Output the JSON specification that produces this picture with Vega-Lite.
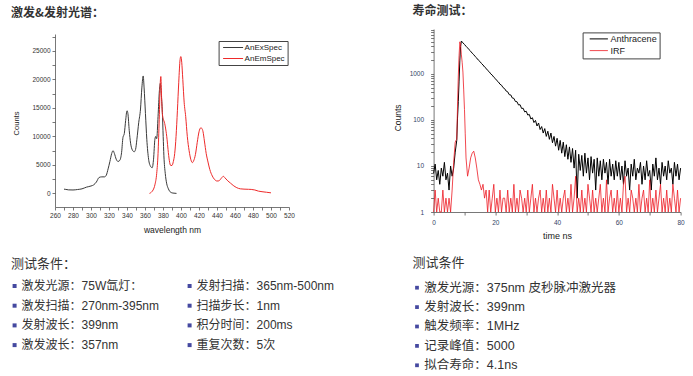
{
  "$schema": "https://vega.github.io/schema/vega-lite/v6.json",
  "background": "white",
  "padding": {"left": 11, "top": 5, "right": 5, "bottom": 5},
  "config": {"view": {"stroke": null}},
  "resolve": {"scale": {"color": "independent", "opacity": "independent", "x": "independent", "y": "independent"}, "legend": {"color": "independent"}},
  "datasets": {
    "spectra": [
      {"nm":270,"counts":750,"series":"AnExSpec"},{"nm":272,"counts":700,"series":"AnExSpec"},{"nm":275,"counts":620,"series":"AnExSpec"},{"nm":280,"counts":600,"series":"AnExSpec"},{"nm":285,"counts":680,"series":"AnExSpec"},{"nm":290,"counts":800,"series":"AnExSpec"},{"nm":295,"counts":1100,"series":"AnExSpec"},{"nm":300,"counts":1300,"series":"AnExSpec"},{"nm":303,"counts":1500,"series":"AnExSpec"},{"nm":306,"counts":2000,"series":"AnExSpec"},{"nm":309,"counts":2800,"series":"AnExSpec"},{"nm":312,"counts":2900,"series":"AnExSpec"},{"nm":315,"counts":2900,"series":"AnExSpec"},{"nm":317,"counts":3200,"series":"AnExSpec"},{"nm":319,"counts":4300,"series":"AnExSpec"},{"nm":321,"counts":5600,"series":"AnExSpec"},{"nm":323,"counts":7000,"series":"AnExSpec"},{"nm":324.5,"counts":7500,"series":"AnExSpec"},{"nm":326,"counts":7000,"series":"AnExSpec"},{"nm":328,"counts":6000,"series":"AnExSpec"},{"nm":330,"counts":5600,"series":"AnExSpec"},{"nm":332,"counts":5800,"series":"AnExSpec"},{"nm":334,"counts":7200,"series":"AnExSpec"},{"nm":335.5,"counts":9800,"series":"AnExSpec"},{"nm":337,"counts":10500,"series":"AnExSpec"},{"nm":338.5,"counts":12800,"series":"AnExSpec"},{"nm":340,"counts":14500,"series":"AnExSpec"},{"nm":341,"counts":14000,"series":"AnExSpec"},{"nm":342.5,"counts":11000,"series":"AnExSpec"},{"nm":344,"counts":8800,"series":"AnExSpec"},{"nm":346,"counts":7600,"series":"AnExSpec"},{"nm":348,"counts":7300,"series":"AnExSpec"},{"nm":349.5,"counts":7700,"series":"AnExSpec"},{"nm":351,"counts":9500,"series":"AnExSpec"},{"nm":353,"counts":12400,"series":"AnExSpec"},{"nm":355,"counts":14800,"series":"AnExSpec"},{"nm":356.5,"counts":18500,"series":"AnExSpec"},{"nm":358,"counts":20600,"series":"AnExSpec"},{"nm":359,"counts":18500,"series":"AnExSpec"},{"nm":360.5,"counts":14000,"series":"AnExSpec"},{"nm":362,"counts":9500,"series":"AnExSpec"},{"nm":364,"counts":6000,"series":"AnExSpec"},{"nm":366,"counts":4800,"series":"AnExSpec"},{"nm":368,"counts":4500,"series":"AnExSpec"},{"nm":369.5,"counts":6000,"series":"AnExSpec"},{"nm":371,"counts":9500,"series":"AnExSpec"},{"nm":372,"counts":10000,"series":"AnExSpec"},{"nm":373,"counts":9600,"series":"AnExSpec"},{"nm":374.5,"counts":13500,"series":"AnExSpec"},{"nm":376,"counts":18000,"series":"AnExSpec"},{"nm":377,"counts":19300,"series":"AnExSpec"},{"nm":378,"counts":17500,"series":"AnExSpec"},{"nm":379.3,"counts":14200,"series":"AnExSpec"},{"nm":380.2,"counts":10000,"series":"AnExSpec"},{"nm":381,"counts":6600,"series":"AnExSpec"},{"nm":382.5,"counts":3500,"series":"AnExSpec"},{"nm":384,"counts":1800,"series":"AnExSpec"},{"nm":386,"counts":800,"series":"AnExSpec"},{"nm":388.5,"counts":200,"series":"AnExSpec"},{"nm":391,"counts":60,"series":"AnExSpec"},{"nm":395,"counts":0,"series":"AnExSpec"},
      {"nm":365,"counts":0,"series":"AnEmSpec"},{"nm":367,"counts":200,"series":"AnEmSpec"},{"nm":369,"counts":600,"series":"AnEmSpec"},{"nm":371,"counts":1500,"series":"AnEmSpec"},{"nm":373,"counts":3500,"series":"AnEmSpec"},{"nm":374.5,"counts":7000,"series":"AnEmSpec"},{"nm":375.8,"counts":13000,"series":"AnEmSpec"},{"nm":377,"counts":19500,"series":"AnEmSpec"},{"nm":377.6,"counts":20500,"series":"AnEmSpec"},{"nm":378.4,"counts":17000,"series":"AnEmSpec"},{"nm":379.3,"counts":14000,"series":"AnEmSpec"},{"nm":380.4,"counts":13000,"series":"AnEmSpec"},{"nm":381.5,"counts":12500,"series":"AnEmSpec"},{"nm":383,"counts":11300,"series":"AnEmSpec"},{"nm":384.5,"counts":9500,"series":"AnEmSpec"},{"nm":385.6,"counts":7700,"series":"AnEmSpec"},{"nm":387,"counts":5800,"series":"AnEmSpec"},{"nm":388.5,"counts":4900,"series":"AnEmSpec"},{"nm":390,"counts":4900,"series":"AnEmSpec"},{"nm":391.5,"counts":5600,"series":"AnEmSpec"},{"nm":393,"counts":7000,"series":"AnEmSpec"},{"nm":394.5,"counts":10000,"series":"AnEmSpec"},{"nm":396,"counts":14500,"series":"AnEmSpec"},{"nm":397.5,"counts":19500,"series":"AnEmSpec"},{"nm":399,"counts":23500,"series":"AnEmSpec"},{"nm":399.8,"counts":24000,"series":"AnEmSpec"},{"nm":400.8,"counts":23000,"series":"AnEmSpec"},{"nm":402,"counts":20000,"series":"AnEmSpec"},{"nm":403.5,"counts":16000,"series":"AnEmSpec"},{"nm":405.2,"counts":13500,"series":"AnEmSpec"},{"nm":407,"counts":10000,"series":"AnEmSpec"},{"nm":409,"counts":7500,"series":"AnEmSpec"},{"nm":411,"counts":5900,"series":"AnEmSpec"},{"nm":412.6,"counts":5400,"series":"AnEmSpec"},{"nm":414,"counts":5700,"series":"AnEmSpec"},{"nm":416,"counts":6800,"series":"AnEmSpec"},{"nm":418,"counts":8900,"series":"AnEmSpec"},{"nm":420,"counts":10800,"series":"AnEmSpec"},{"nm":422,"counts":11500,"series":"AnEmSpec"},{"nm":423.2,"counts":11400,"series":"AnEmSpec"},{"nm":424.5,"counts":10800,"series":"AnEmSpec"},{"nm":426,"counts":9200,"series":"AnEmSpec"},{"nm":428,"counts":7000,"series":"AnEmSpec"},{"nm":430,"counts":5500,"series":"AnEmSpec"},{"nm":432,"counts":4200,"series":"AnEmSpec"},{"nm":434.8,"counts":3050,"series":"AnEmSpec"},{"nm":437,"counts":2500,"series":"AnEmSpec"},{"nm":440,"counts":2170,"series":"AnEmSpec"},{"nm":442,"counts":2200,"series":"AnEmSpec"},{"nm":445,"counts":2700,"series":"AnEmSpec"},{"nm":447,"counts":3000,"series":"AnEmSpec"},{"nm":449,"counts":2700,"series":"AnEmSpec"},{"nm":452,"counts":2200,"series":"AnEmSpec"},{"nm":455,"counts":1800,"series":"AnEmSpec"},{"nm":458,"counts":1400,"series":"AnEmSpec"},{"nm":462,"counts":1000,"series":"AnEmSpec"},{"nm":466,"counts":800,"series":"AnEmSpec"},{"nm":470,"counts":750,"series":"AnEmSpec"},{"nm":475,"counts":720,"series":"AnEmSpec"},{"nm":478,"counts":700,"series":"AnEmSpec"},{"nm":482,"counts":600,"series":"AnEmSpec"},{"nm":486,"counts":400,"series":"AnEmSpec"},{"nm":490,"counts":300,"series":"AnEmSpec"},{"nm":495,"counts":200,"series":"AnEmSpec"},{"nm":500,"counts":100,"series":"AnEmSpec"}
    ],
    "decay": [
      {"t":0,"counts":7,"series":"Anthracene"},{"t":0.5,"counts":11,"series":"Anthracene"},{"t":1,"counts":5,"series":"Anthracene"},{"t":1.5,"counts":8,"series":"Anthracene"},{"t":2,"counts":4,"series":"Anthracene"},{"t":2.5,"counts":9,"series":"Anthracene"},{"t":3,"counts":6,"series":"Anthracene"},{"t":3.5,"counts":12,"series":"Anthracene"},{"t":4,"counts":5,"series":"Anthracene"},{"t":4.5,"counts":7,"series":"Anthracene"},{"t":5,"counts":3,"series":"Anthracene"},{"t":5.5,"counts":10,"series":"Anthracene"},{"t":6,"counts":6,"series":"Anthracene"},{"t":6.5,"counts":9,"series":"Anthracene"},{"t":7,"counts":20,"series":"Anthracene"},{"t":7.5,"counts":36,"series":"Anthracene"},{"t":7.75,"counts":110,"series":"Anthracene"},{"t":8,"counts":250,"series":"Anthracene"},{"t":8.25,"counts":700,"series":"Anthracene"},{"t":8.5,"counts":2000,"series":"Anthracene"},{"t":8.75,"counts":4000,"series":"Anthracene"},{"t":9,"counts":5200,"series":"Anthracene"},{"t":9.5,"counts":4750,"series":"Anthracene"},{"t":10,"counts":4390,"series":"Anthracene"},{"t":10.5,"counts":4000,"series":"Anthracene"},{"t":11,"counts":3700,"series":"Anthracene"},{"t":11.5,"counts":3370,"series":"Anthracene"},{"t":12,"counts":3120,"series":"Anthracene"},{"t":12.5,"counts":2830,"series":"Anthracene"},{"t":13,"counts":2630,"series":"Anthracene"},{"t":13.5,"counts":2380,"series":"Anthracene"},{"t":14,"counts":2210,"series":"Anthracene"},{"t":14.5,"counts":2000,"series":"Anthracene"},{"t":15,"counts":1870,"series":"Anthracene"},{"t":15.5,"counts":1690,"series":"Anthracene"},{"t":16,"counts":1570,"series":"Anthracene"},{"t":16.5,"counts":1420,"series":"Anthracene"},{"t":17,"counts":1330,"series":"Anthracene"},{"t":17.5,"counts":1195,"series":"Anthracene"},{"t":18,"counts":1120,"series":"Anthracene"},{"t":18.5,"counts":1005,"series":"Anthracene"},{"t":19,"counts":945,"series":"Anthracene"},{"t":19.5,"counts":850,"series":"Anthracene"},{"t":20,"counts":795,"series":"Anthracene"},{"t":20.5,"counts":715,"series":"Anthracene"},{"t":21,"counts":670,"series":"Anthracene"},{"t":21.5,"counts":600,"series":"Anthracene"},{"t":22,"counts":570,"series":"Anthracene"},{"t":22.5,"counts":505,"series":"Anthracene"},{"t":23,"counts":480,"series":"Anthracene"},{"t":23.5,"counts":425,"series":"Anthracene"},{"t":24,"counts":410,"series":"Anthracene"},{"t":24.5,"counts":355,"series":"Anthracene"},{"t":25,"counts":350,"series":"Anthracene"},{"t":25.5,"counts":300,"series":"Anthracene"},{"t":26,"counts":295,"series":"Anthracene"},{"t":26.5,"counts":252,"series":"Anthracene"},{"t":27,"counts":250,"series":"Anthracene"},{"t":27.5,"counts":212,"series":"Anthracene"},{"t":28,"counts":215,"series":"Anthracene"},{"t":28.5,"counts":178,"series":"Anthracene"},{"t":29,"counts":180,"series":"Anthracene"},{"t":29.5,"counts":150,"series":"Anthracene"},{"t":30,"counts":155,"series":"Anthracene"},{"t":30.5,"counts":128,"series":"Anthracene"},{"t":31,"counts":132,"series":"Anthracene"},{"t":31.5,"counts":105,"series":"Anthracene"},{"t":32,"counts":112,"series":"Anthracene"},{"t":32.5,"counts":88,"series":"Anthracene"},{"t":33,"counts":98,"series":"Anthracene"},{"t":33.5,"counts":74,"series":"Anthracene"},{"t":34,"counts":86,"series":"Anthracene"},{"t":34.5,"counts":62,"series":"Anthracene"},{"t":35,"counts":72,"series":"Anthracene"},{"t":35.5,"counts":52,"series":"Anthracene"},{"t":36,"counts":65,"series":"Anthracene"},{"t":36.5,"counts":44,"series":"Anthracene"},{"t":37,"counts":57,"series":"Anthracene"},{"t":37.5,"counts":38,"series":"Anthracene"},{"t":38,"counts":52,"series":"Anthracene"},{"t":38.5,"counts":32,"series":"Anthracene"},{"t":39,"counts":44,"series":"Anthracene"},{"t":39.5,"counts":27,"series":"Anthracene"},{"t":40,"counts":40,"series":"Anthracene"},{"t":40.5,"counts":22,"series":"Anthracene"},{"t":41,"counts":36,"series":"Anthracene"},{"t":41.5,"counts":19,"series":"Anthracene"},{"t":42,"counts":33,"series":"Anthracene"},{"t":42.5,"counts":16,"series":"Anthracene"},{"t":43,"counts":29,"series":"Anthracene"},{"t":43.5,"counts":14,"series":"Anthracene"},{"t":44,"counts":26,"series":"Anthracene"},{"t":44.5,"counts":12,"series":"Anthracene"},{"t":45,"counts":24,"series":"Anthracene"},{"t":45.5,"counts":9,"series":"Anthracene"},{"t":46,"counts":22,"series":"Anthracene"},{"t":46.5,"counts":2,"series":"Anthracene"},{"t":47,"counts":18,"series":"Anthracene"},{"t":47.5,"counts":8,"series":"Anthracene"},{"t":48,"counts":17,"series":"Anthracene"},{"t":48.5,"counts":6,"series":"Anthracene"},{"t":49,"counts":19,"series":"Anthracene"},{"t":49.5,"counts":7,"series":"Anthracene"},{"t":50,"counts":15,"series":"Anthracene"},{"t":50.5,"counts":5,"series":"Anthracene"},{"t":51,"counts":16,"series":"Anthracene"},{"t":51.5,"counts":7,"series":"Anthracene"},{"t":52,"counts":14,"series":"Anthracene"},{"t":52.5,"counts":3,"series":"Anthracene"},{"t":53,"counts":15,"series":"Anthracene"},{"t":53.5,"counts":6,"series":"Anthracene"},{"t":54,"counts":13,"series":"Anthracene"},{"t":54.5,"counts":5,"series":"Anthracene"},{"t":55,"counts":14,"series":"Anthracene"},{"t":55.5,"counts":7,"series":"Anthracene"},{"t":56,"counts":12,"series":"Anthracene"},{"t":56.5,"counts":4,"series":"Anthracene"},{"t":57,"counts":14,"series":"Anthracene"},{"t":57.5,"counts":6,"series":"Anthracene"},{"t":58,"counts":11,"series":"Anthracene"},{"t":58.5,"counts":5,"series":"Anthracene"},{"t":59,"counts":13,"series":"Anthracene"},{"t":59.5,"counts":6,"series":"Anthracene"},{"t":60,"counts":12,"series":"Anthracene"},{"t":60.5,"counts":5,"series":"Anthracene"},{"t":61,"counts":10,"series":"Anthracene"},{"t":61.5,"counts":4,"series":"Anthracene"},{"t":62,"counts":13,"series":"Anthracene"},{"t":62.5,"counts":6,"series":"Anthracene"},{"t":63,"counts":9,"series":"Anthracene"},{"t":63.5,"counts":3,"series":"Anthracene"},{"t":64,"counts":11,"series":"Anthracene"},{"t":64.5,"counts":6,"series":"Anthracene"},{"t":65,"counts":14,"series":"Anthracene"},{"t":65.5,"counts":5,"series":"Anthracene"},{"t":66,"counts":9,"series":"Anthracene"},{"t":66.5,"counts":7,"series":"Anthracene"},{"t":67,"counts":12,"series":"Anthracene"},{"t":67.5,"counts":4,"series":"Anthracene"},{"t":68,"counts":10,"series":"Anthracene"},{"t":68.5,"counts":5,"series":"Anthracene"},{"t":69,"counts":13,"series":"Anthracene"},{"t":69.5,"counts":6,"series":"Anthracene"},{"t":70,"counts":8,"series":"Anthracene"},{"t":70.5,"counts":3,"series":"Anthracene"},{"t":71,"counts":11,"series":"Anthracene"},{"t":71.5,"counts":6,"series":"Anthracene"},{"t":72,"counts":15,"series":"Anthracene"},{"t":72.5,"counts":5,"series":"Anthracene"},{"t":73,"counts":9,"series":"Anthracene"},{"t":73.5,"counts":4,"series":"Anthracene"},{"t":74,"counts":12,"series":"Anthracene"},{"t":74.5,"counts":6,"series":"Anthracene"},{"t":75,"counts":10,"series":"Anthracene"},{"t":75.5,"counts":5,"series":"Anthracene"},{"t":76,"counts":13,"series":"Anthracene"},{"t":76.5,"counts":7,"series":"Anthracene"},{"t":77,"counts":9,"series":"Anthracene"},{"t":77.5,"counts":4,"series":"Anthracene"},{"t":78,"counts":12,"series":"Anthracene"},{"t":78.5,"counts":6,"series":"Anthracene"},{"t":79,"counts":11,"series":"Anthracene"},{"t":79.5,"counts":5,"series":"Anthracene"},{"t":80,"counts":9,"series":"Anthracene"},
      {"t":0,"counts":1,"series":"IRF"},{"t":0.5,"counts":3,"series":"IRF"},{"t":1,"counts":1,"series":"IRF"},{"t":1.5,"counts":2,"series":"IRF"},{"t":2,"counts":1,"series":"IRF"},{"t":2.5,"counts":1,"series":"IRF"},{"t":3,"counts":3,"series":"IRF"},{"t":3.5,"counts":1,"series":"IRF"},{"t":4,"counts":2,"series":"IRF"},{"t":4.5,"counts":1,"series":"IRF"},{"t":5,"counts":2,"series":"IRF"},{"t":5.5,"counts":1,"series":"IRF"},{"t":6,"counts":3,"series":"IRF"},{"t":6.5,"counts":12,"series":"IRF"},{"t":7,"counts":33,"series":"IRF"},{"t":7.25,"counts":36,"series":"IRF"},{"t":7.5,"counts":38,"series":"IRF"},{"t":7.75,"counts":200,"series":"IRF"},{"t":8,"counts":900,"series":"IRF"},{"t":8.25,"counts":2500,"series":"IRF"},{"t":8.5,"counts":5000,"series":"IRF"},{"t":8.75,"counts":4200,"series":"IRF"},{"t":9,"counts":2600,"series":"IRF"},{"t":9.25,"counts":1800,"series":"IRF"},{"t":9.5,"counts":1100,"series":"IRF"},{"t":9.75,"counts":450,"series":"IRF"},{"t":10,"counts":170,"series":"IRF"},{"t":10.25,"counts":50,"series":"IRF"},{"t":10.5,"counts":15,"series":"IRF"},{"t":11,"counts":6,"series":"IRF"},{"t":11.5,"counts":9,"series":"IRF"},{"t":12,"counts":15,"series":"IRF"},{"t":12.5,"counts":19,"series":"IRF"},{"t":13,"counts":21,"series":"IRF"},{"t":13.5,"counts":15,"series":"IRF"},{"t":14,"counts":9,"series":"IRF"},{"t":14.5,"counts":5,"series":"IRF"},{"t":15,"counts":4,"series":"IRF"},{"t":15.5,"counts":3,"series":"IRF"},{"t":16,"counts":4,"series":"IRF"},{"t":16.5,"counts":2,"series":"IRF"},{"t":17,"counts":3,"series":"IRF"},{"t":17.5,"counts":1,"series":"IRF"},{"t":18,"counts":3,"series":"IRF"},{"t":18.5,"counts":1,"series":"IRF"},{"t":19,"counts":2,"series":"IRF"},{"t":19.5,"counts":4,"series":"IRF"},{"t":20,"counts":1,"series":"IRF"},{"t":20.5,"counts":2,"series":"IRF"},{"t":21,"counts":1,"series":"IRF"},{"t":21.5,"counts":3,"series":"IRF"},{"t":22,"counts":1,"series":"IRF"},{"t":22.5,"counts":2,"series":"IRF"},{"t":23,"counts":2,"series":"IRF"},{"t":23.5,"counts":1,"series":"IRF"},{"t":24,"counts":3,"series":"IRF"},{"t":24.5,"counts":1,"series":"IRF"},{"t":25,"counts":2,"series":"IRF"},{"t":25.5,"counts":1,"series":"IRF"},{"t":26,"counts":4,"series":"IRF"},{"t":26.5,"counts":1,"series":"IRF"},{"t":27,"counts":2,"series":"IRF"},{"t":27.5,"counts":1,"series":"IRF"},{"t":28,"counts":3,"series":"IRF"},{"t":28.5,"counts":2,"series":"IRF"},{"t":29,"counts":1,"series":"IRF"},{"t":29.5,"counts":2,"series":"IRF"},{"t":30,"counts":1,"series":"IRF"},{"t":30.5,"counts":3,"series":"IRF"},{"t":31,"counts":1,"series":"IRF"},{"t":31.5,"counts":2,"series":"IRF"},{"t":32,"counts":4,"series":"IRF"},{"t":32.5,"counts":1,"series":"IRF"},{"t":33,"counts":2,"series":"IRF"},{"t":33.5,"counts":1,"series":"IRF"},{"t":34,"counts":2,"series":"IRF"},{"t":34.5,"counts":3,"series":"IRF"},{"t":35,"counts":1,"series":"IRF"},{"t":35.5,"counts":2,"series":"IRF"},{"t":36,"counts":1,"series":"IRF"},{"t":36.5,"counts":3,"series":"IRF"},{"t":37,"counts":1,"series":"IRF"},{"t":37.5,"counts":2,"series":"IRF"},{"t":38,"counts":1,"series":"IRF"},{"t":38.5,"counts":4,"series":"IRF"},{"t":39,"counts":2,"series":"IRF"},{"t":39.5,"counts":1,"series":"IRF"},{"t":40,"counts":3,"series":"IRF"},{"t":40.5,"counts":1,"series":"IRF"},{"t":41,"counts":2,"series":"IRF"},{"t":41.5,"counts":1,"series":"IRF"},{"t":42,"counts":2,"series":"IRF"},{"t":42.5,"counts":3,"series":"IRF"},{"t":43,"counts":1,"series":"IRF"},{"t":43.5,"counts":2,"series":"IRF"},{"t":44,"counts":1,"series":"IRF"},{"t":44.5,"counts":4,"series":"IRF"},{"t":45,"counts":1,"series":"IRF"},{"t":45.5,"counts":2,"series":"IRF"},{"t":46,"counts":6,"series":"IRF"},{"t":46.5,"counts":1,"series":"IRF"},{"t":47,"counts":2,"series":"IRF"},{"t":47.5,"counts":1,"series":"IRF"},{"t":48,"counts":3,"series":"IRF"},{"t":48.5,"counts":1,"series":"IRF"},{"t":49,"counts":2,"series":"IRF"},{"t":49.5,"counts":1,"series":"IRF"},{"t":50,"counts":4,"series":"IRF"},{"t":50.5,"counts":2,"series":"IRF"},{"t":51,"counts":1,"series":"IRF"},{"t":51.5,"counts":3,"series":"IRF"},{"t":52,"counts":1,"series":"IRF"},{"t":52.5,"counts":2,"series":"IRF"},{"t":53,"counts":1,"series":"IRF"},{"t":53.5,"counts":2,"series":"IRF"},{"t":54,"counts":4,"series":"IRF"},{"t":54.5,"counts":1,"series":"IRF"},{"t":55,"counts":2,"series":"IRF"},{"t":55.5,"counts":1,"series":"IRF"},{"t":56,"counts":5,"series":"IRF"},{"t":56.5,"counts":1,"series":"IRF"},{"t":57,"counts":2,"series":"IRF"},{"t":57.5,"counts":3,"series":"IRF"},{"t":58,"counts":1,"series":"IRF"},{"t":58.5,"counts":2,"series":"IRF"},{"t":59,"counts":1,"series":"IRF"},{"t":59.5,"counts":3,"series":"IRF"},{"t":60,"counts":1,"series":"IRF"},{"t":60.5,"counts":2,"series":"IRF"},{"t":61,"counts":1,"series":"IRF"},{"t":61.5,"counts":4,"series":"IRF"},{"t":62,"counts":6,"series":"IRF"},{"t":62.5,"counts":1,"series":"IRF"},{"t":63,"counts":2,"series":"IRF"},{"t":63.5,"counts":1,"series":"IRF"},{"t":64,"counts":3,"series":"IRF"},{"t":64.5,"counts":2,"series":"IRF"},{"t":65,"counts":1,"series":"IRF"},{"t":65.5,"counts":2,"series":"IRF"},{"t":66,"counts":1,"series":"IRF"},{"t":66.5,"counts":4,"series":"IRF"},{"t":67,"counts":1,"series":"IRF"},{"t":67.5,"counts":2,"series":"IRF"},{"t":68,"counts":3,"series":"IRF"},{"t":68.5,"counts":1,"series":"IRF"},{"t":69,"counts":2,"series":"IRF"},{"t":69.5,"counts":1,"series":"IRF"},{"t":70,"counts":5,"series":"IRF"},{"t":70.5,"counts":1,"series":"IRF"},{"t":71,"counts":2,"series":"IRF"},{"t":71.5,"counts":1,"series":"IRF"},{"t":72,"counts":3,"series":"IRF"},{"t":72.5,"counts":1,"series":"IRF"},{"t":73,"counts":2,"series":"IRF"},{"t":73.5,"counts":4,"series":"IRF"},{"t":74,"counts":1,"series":"IRF"},{"t":74.5,"counts":2,"series":"IRF"},{"t":75,"counts":1,"series":"IRF"},{"t":75.5,"counts":3,"series":"IRF"},{"t":76,"counts":1,"series":"IRF"},{"t":76.5,"counts":2,"series":"IRF"},{"t":77,"counts":1,"series":"IRF"},{"t":77.5,"counts":4,"series":"IRF"},{"t":78,"counts":2,"series":"IRF"},{"t":78.5,"counts":1,"series":"IRF"},{"t":79,"counts":3,"series":"IRF"},{"t":79.5,"counts":1,"series":"IRF"},{"t":80,"counts":2,"series":"IRF"}
    ],
    "leftText": [
      {"col":0,"line":0,"label":"测试条件：","kind":"heading"},
      {"col":0,"line":1,"label":"激发光源：75W氙灯：","kind":"item"},
      {"col":0,"line":2,"label":"激发扫描：270nm-395nm","kind":"item"},
      {"col":0,"line":3,"label":"发射波长：399nm","kind":"item"},
      {"col":0,"line":4,"label":"激发波长：357nm","kind":"item"},
      {"col":1,"line":1,"label":"发射扫描：365nm-500nm","kind":"item"},
      {"col":1,"line":2,"label":"扫描步长：1nm","kind":"item"},
      {"col":1,"line":3,"label":"积分时间：200ms","kind":"item"},
      {"col":1,"line":4,"label":"重复次数：5次","kind":"item"}
    ],
    "rightText": [
      {"col":0,"line":0,"label":"测试条件","kind":"heading"},
      {"col":0,"line":1,"label":"激发光源：375nm 皮秒脉冲激光器","kind":"item"},
      {"col":0,"line":2,"label":"发射波长：399nm","kind":"item"},
      {"col":0,"line":3,"label":"触发频率：1MHz","kind":"item"},
      {"col":0,"line":4,"label":"记录峰值：5000","kind":"item"},
      {"col":0,"line":5,"label":"拟合寿命：4.1ns","kind":"item"}
    ]
  },
  "columns": 2,
  "spacing": {"row": 44, "column": 144.6},
  "bounds": "flush",
  "center": {"row": true},
  "align": "each",
  "concat": [
    {
      "width": 234,
      "height": 173,
      "title": {"text": "激发&发射光谱：", "anchor": "start", "frame": "group", "dx": -44, "offset": 14, "fontSize": 12, "fontWeight": "bold", "font": "Noto Sans CJK SC", "color": "#333333"},
      "data": {"name": "spectra"},
      "mark": {"type": "line", "strokeWidth": 1, "interpolate": "monotone"},
      "encoding": {
        "x": {"field": "nm", "type": "quantitative",
          "scale": {"domain": [260, 520], "nice": false, "zero": false},
          "axis": {"values": [260,270,280,290,300,310,320,330,340,350,360,370,380,390,400,410,420,430,440,450,460,470,480,490,500,510,520],
            "labelExpr": "datum.value % 20 === 0 ? datum.label : ''", "labelOverlap": false, "labelFlush": false,
            "title": "wavelength nm", "grid": false, "tickSize": 3, "tickColor": "#555555", "domainColor": "#555555", "domainWidth": 0.8, "tickWidth": 0.8,
            "labelFont": "Liberation Sans", "labelFontSize": 6.5, "labelColor": "#333333", "labelPadding": 2,
            "titleFont": "Liberation Sans", "titleFontSize": 8.5, "titleFontWeight": "normal", "titleColor": "#222222", "titleY": 22.5, "titleBaseline": "middle"}},
        "y": {"field": "counts", "type": "quantitative",
          "scale": {"domain": [-2385, 27960], "nice": false, "zero": false},
          "axis": {"values": [0,2500,5000,7500,10000,12500,15000,17500,20000,22500,25000,27500],
            "labelExpr": "datum.value % 5000 === 0 ? datum.label : ''", "format": "d", "labelOverlap": false, "labelFlush": false,
            "title": "Counts", "grid": false, "tickSize": 3, "tickColor": "#555555", "domainColor": "#555555", "domainWidth": 0.8, "tickWidth": 0.8,
            "labelFont": "Liberation Sans", "labelFontSize": 6.5, "labelColor": "#333333", "labelPadding": 2,
            "titleFont": "Liberation Sans", "titleFontSize": 7.5, "titleFontWeight": "normal", "titleColor": "#222222",
            "titleX": -39, "titleY": 89, "titleAngle": 270, "titleAlign": "center", "titleBaseline": "middle"}},
        "color": {"field": "series", "type": "nominal",
          "scale": {"domain": ["AnExSpec", "AnEmSpec"], "range": ["#3a3a3a", "#ee2a2a"]},
          "legend": {"title": null, "orient": "none", "legendX": 163.6, "legendY": 7,
            "symbolType": "M-0.5,0H4.5", "symbolSize": 64, "symbolStrokeWidth": 1,
            "labelFont": "Liberation Sans", "labelFontSize": 8, "labelColor": "#222222", "labelOffset": 15,
            "padding": 2, "rowPadding": 2, "strokeColor": "#444444", "fillColor": "white"}}
      }
    },
    {
      "width": 247,
      "height": 183,
      "title": {"text": "寿命测试：", "anchor": "start", "frame": "group", "dx": -21, "offset": 9, "fontSize": 12, "fontWeight": "bold", "font": "Noto Sans CJK SC", "color": "#333333"},
      "data": {"name": "decay"},
      "mark": {"type": "line", "strokeWidth": 1},
      "encoding": {
        "x": {"field": "t", "type": "quantitative",
          "scale": {"domain": [0, 80], "nice": false, "zero": false},
          "axis": {"values": [0,10,20,30,40,50,60,70,80],
            "labelExpr": "datum.value % 20 === 0 ? datum.label : ''", "labelOverlap": false, "labelFlush": false,
            "title": "time ns", "grid": false, "tickSize": 3, "tickColor": "#555555", "domainColor": "#555555", "domainWidth": 0.8, "tickWidth": 0.8,
            "labelFont": "Liberation Sans", "labelFontSize": 6.5, "labelColor": "#334466", "labelPadding": 4,
            "titleFont": "Liberation Sans", "titleFontSize": 9, "titleFontWeight": "normal", "titleColor": "#222222", "titleY": 23.5, "titleBaseline": "middle"}},
        "y": {"field": "counts", "type": "quantitative",
          "scale": {"type": "log", "domain": [1, 9500], "nice": false},
          "axis": {"values": [1,2,3,4,5,6,7,8,9,10,20,30,40,50,60,70,80,90,100,200,300,400,500,600,700,800,900,1000,2000,3000,4000,5000,6000,7000,8000,9000],
            "labelExpr": "indexof([1,10,100,1000], datum.value) >= 0 ? datum.label : ''", "format": "d", "labelOverlap": false, "labelFlush": false,
            "title": "Counts", "grid": false, "tickSize": 3, "tickColor": "#555555", "domainColor": "#555555", "domainWidth": 0.8, "tickWidth": 0.8,
            "labelFont": "Liberation Sans", "labelFontSize": 6.5, "labelColor": "#334466", "labelPadding": 7,
            "titleFont": "Liberation Sans", "titleFontSize": 8.5, "titleFontWeight": "normal", "titleColor": "#222222",
            "titleX": -36.6, "titleY": 88.4, "titleAngle": 270, "titleAlign": "center", "titleBaseline": "middle"}},
        "color": {"field": "series", "type": "nominal",
          "scale": {"domain": ["Anthracene", "IRF"], "range": ["#000000", "#ee1c24"]},
          "legend": {"title": null, "orient": "none", "legendX": 149, "legendY": 3.4,
            "symbolType": "M0.15,0H4.7", "symbolSize": 64, "symbolStrokeWidth": 1,
            "labelFont": "Liberation Sans", "labelFontSize": 9, "labelColor": "#222222", "labelOffset": 17,
            "padding": 2, "rowPadding": 1.7, "strokeColor": "#444444", "fillColor": "white"}},
        "opacity": {"field": "series", "type": "nominal", "scale": {"domain": ["Anthracene", "IRF"], "range": [1, 0.8]}, "legend": null}
      }
    },
    {
      "width": 234,
      "height": 115,
      "data": {"name": "leftText"},
      "encoding": {
        "x": {"field": "col", "type": "quantitative", "scale": {"domain": [0.2309, 1.568], "nice": false, "zero": false}, "axis": null},
        "y": {"field": "line", "type": "quantitative", "scale": {"domain": [-0.5228, 5.3148], "nice": false, "zero": false, "reverse": true}, "axis": null}
      },
      "layer": [
        {"transform": [{"filter": "datum.kind === 'item'"}],
         "mark": {"type": "point", "shape": "square", "filled": true, "size": 16, "color": "#4549a0", "opacity": 1}},
        {"transform": [{"filter": "datum.kind === 'item'"}],
         "mark": {"type": "text", "align": "left", "baseline": "middle", "dx": 7, "fontSize": 12, "font": "Liberation Sans, Noto Sans CJK SC", "color": "#333333"},
         "encoding": {"text": {"field": "label"}}},
        {"transform": [{"filter": "datum.kind === 'heading'"}],
         "mark": {"type": "text", "align": "left", "baseline": "middle", "dx": -3.5, "dy": -2, "fontSize": 13, "font": "Liberation Sans, Noto Sans CJK SC", "color": "#333333"},
         "encoding": {"text": {"field": "label"}}}
      ]
    },
    {
      "width": 247,
      "height": 115,
      "data": {"name": "rightText"},
      "encoding": {
        "x": {"field": "col", "type": "quantitative", "scale": {"domain": [0.166, 2.636], "nice": false, "zero": false}, "axis": null},
        "y": {"field": "line", "type": "quantitative", "scale": {"domain": [-0.634, 5.294], "nice": false, "zero": false, "reverse": true}, "axis": null}
      },
      "layer": [
        {"transform": [{"filter": "datum.kind === 'item'"}],
         "mark": {"type": "point", "shape": "square", "filled": true, "size": 14, "color": "#4549a0", "opacity": 1}},
        {"transform": [{"filter": "datum.kind === 'item'"}],
         "mark": {"type": "text", "align": "left", "baseline": "middle", "dx": 7.3, "fontSize": 12.5, "font": "Liberation Sans, Noto Sans CJK SC", "color": "#333333"},
         "encoding": {"text": {"field": "label"}}},
        {"transform": [{"filter": "datum.kind === 'heading'"}],
         "mark": {"type": "text", "align": "left", "baseline": "middle", "dx": -4.4, "dy": -5, "fontSize": 13, "font": "Liberation Sans, Noto Sans CJK SC", "color": "#333333"},
         "encoding": {"text": {"field": "label"}}}
      ]
    }
  ]
}
